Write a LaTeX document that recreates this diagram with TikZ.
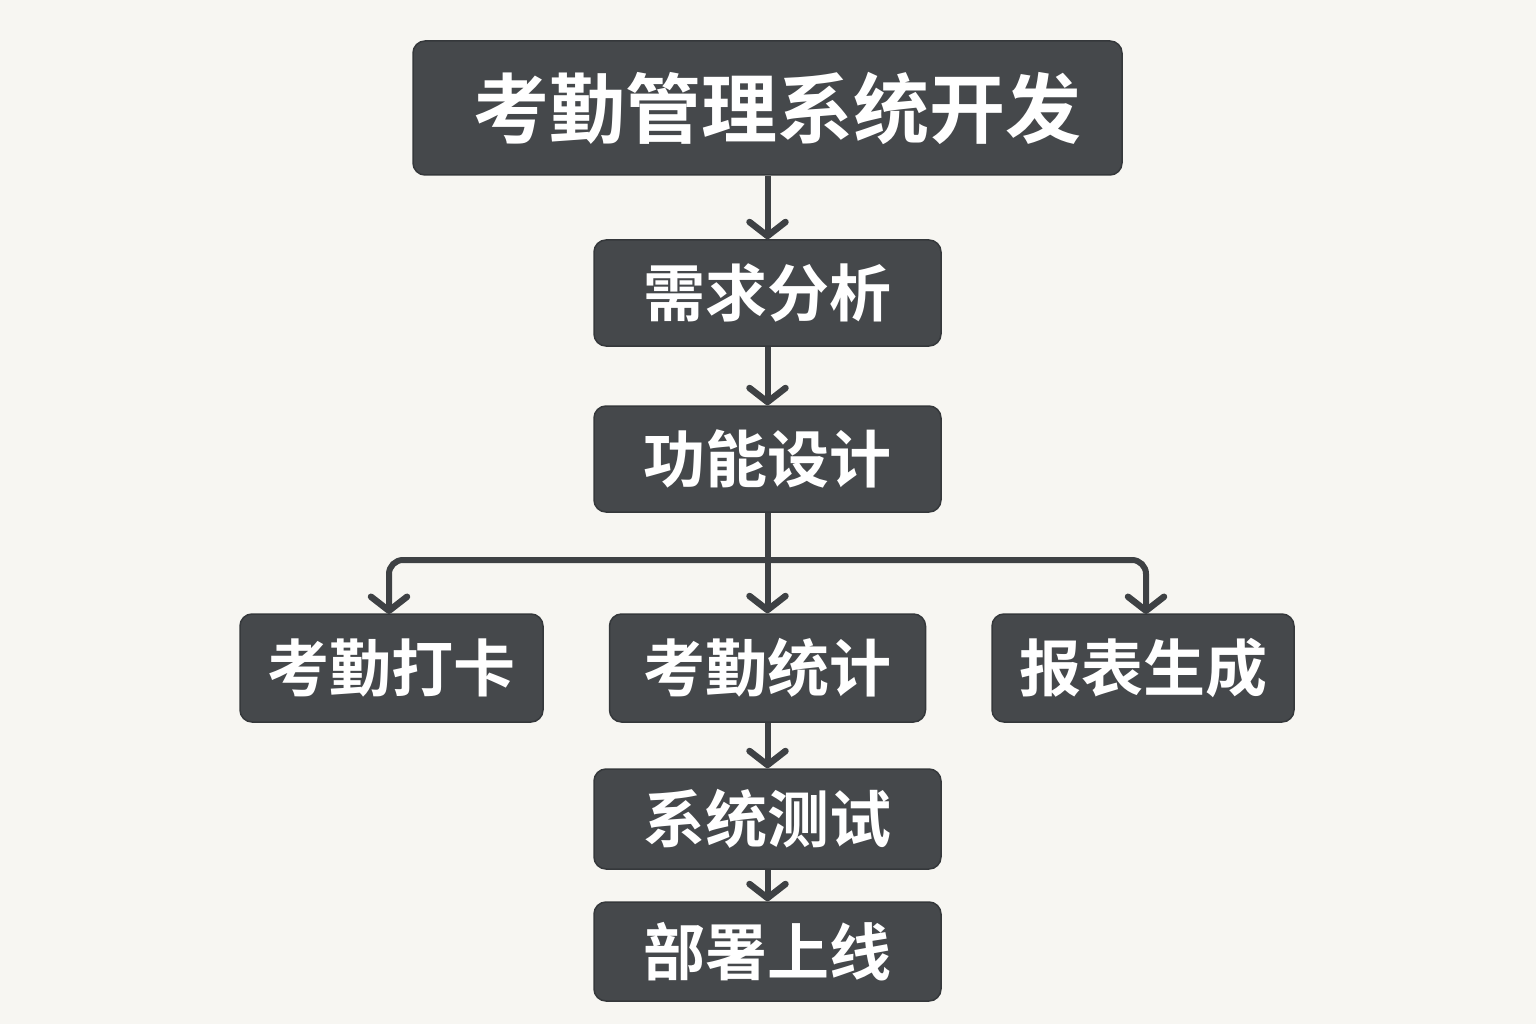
\documentclass[tikz,border=0pt]{standalone}
\usepackage{fontspec}
\newfontfamily\cjk{Noto Sans CJK SC}[BoldFont={Noto Sans CJK SC Bold}]
\usetikzlibrary{arrows.meta}
\definecolor{bgc}{HTML}{F7F6F2}
\definecolor{boxc}{HTML}{45484B}
\definecolor{boxb}{HTML}{35383B}
\definecolor{linec}{HTML}{3E4144}
\tikzset{
  box/.style={draw=boxb, fill=boxc, line width=1.5pt, rounded corners=12pt,
    inner sep=0pt, text=white, font=\cjk\bfseries\fontsize{62}{62}\selectfont},
  titlebox/.style={box, font=\cjk\bfseries\fontsize{76}{76}\selectfont},
  arr/.style={draw=linec, line width=6pt,
    -{Straight Barb[length=14pt,width=36pt,line width=6.5pt,line cap=round,line join=round]}},
}
\begin{document}
\begin{tikzpicture}[x=1pt,y=-1pt]
\useasboundingbox[fill=bgc] (0,0) rectangle (1536,1024);
\node[titlebox, minimum width=709pt, minimum height=134pt] (title) at (767.5,108) {\hspace*{20pt}考勤管理系统开发};
\node[box, minimum width=347pt, minimum height=106pt] (xq) at (767.5,293) {需求分析};
\node[box, minimum width=347pt, minimum height=106pt] (gn) at (767.5,459) {功能设计};
\node[box, minimum width=303pt, minimum height=108pt] (dk) at (391.5,668) {考勤打卡};
\node[box, minimum width=316pt, minimum height=108pt] (tj) at (767.5,668) {考勤统计};
\node[box, minimum width=302pt, minimum height=108pt] (bb) at (1143,668) {报表生成};
\node[box, minimum width=347pt, minimum height=100pt] (cs) at (767.5,819) {系统测试};
\node[box, minimum width=347pt, minimum height=99pt] (bs) at (767.5,951.5) {部署上线};
\coordinate (br) at (767.5,560);
\coordinate (dkin) at (389,614);
\coordinate (bbin) at (1146,614);
\draw[arr] (title.south) -- (xq.north);
\draw[arr] (xq.south) -- (gn.north);
\draw[arr] (gn.south) -- (tj.north);
\draw[arr, rounded corners=14pt] (br) -| (dkin);
\draw[arr, rounded corners=14pt] (br) -| (bbin);
\draw[arr] (tj.south) -- (cs.north);
\draw[arr] (cs.south) -- (bs.north);
\end{tikzpicture}
\end{document}
